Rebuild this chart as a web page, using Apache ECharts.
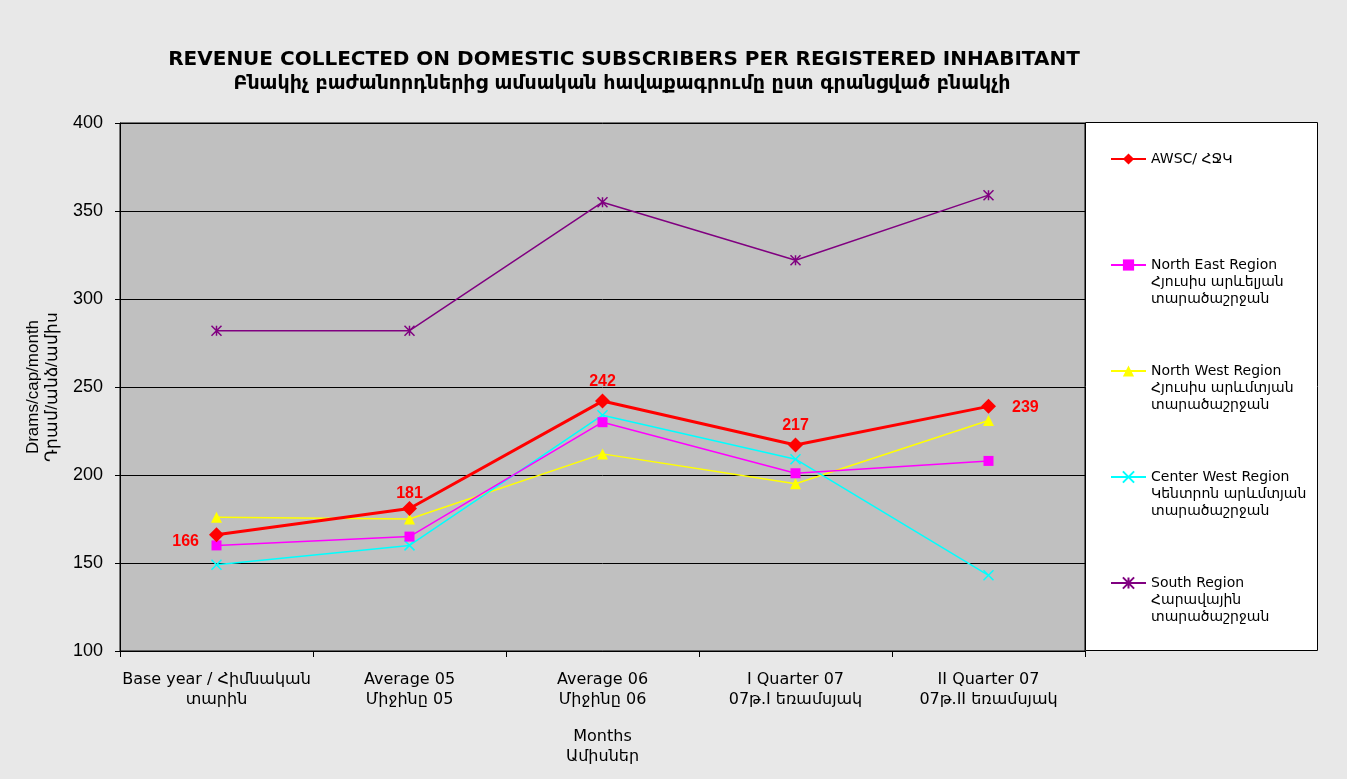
<!DOCTYPE html>
<html>
<head>
<meta charset="utf-8">
<script src="https://cdn.jsdelivr.net/npm/echarts@6/dist/echarts.min.js"></script>
<style>
html,body{margin:0;padding:0;background:#e8e8e8;}
#chart{width:1347px;height:779px;}
</style>
</head>
<body>
<div id="chart"></div>
<script>
const categories = [
  'Base year / Հիմնական\nտարին',
  'Average 05\nՄիջինը 05',
  'Average 06\nՄիջինը 06',
  'I Quarter 07\n07թ.I եռամսյակ',
  'II Quarter 07\n07թ.II եռամսյակ'
];
const seriesNames = [
  'AWSC/ ՀՋԿ',
  'North East Region\nՀյուսիս արևելյան\nտարածաշրջան',
  'North West Region\nՀյուսիս արևմտյան\nտարածաշրջան',
  'Center West Region\nԿենտրոն արևմտյան\nտարածաշրջան',
  'South Region\nՀարավային\nտարածաշրջան'
];
const awsc = [166, 181, 242, 217, 239];
const northEast = [160, 165, 230, 201, 208];
const northWest = [176, 175, 212, 195, 231];
const centerWest = [149, 160, 234, 209, 143];
const south = [282, 282, 355, 322, 359];
const awscLabelPos = ['left', 'top', 'top', 'top', 'right'];
const yTicks = [100, 150, 200, 250, 300, 350, 400];

const chart = echarts.init(document.getElementById('chart'));
const crossPath = 'path://M0,0L10,10M10,0L0,10';
const starPath = 'path://M0,0L10,10M10,0L0,10M5,0L5,10';
const legendTops = [150.5, 222.5, 328.5, 434.5, 540.5];
const font = 'DejaVu Sans, sans-serif';
const labelFont = 'Liberation Sans, Arial, sans-serif';
const labelDist = [10, -1, 4, 4, 16];
const labelOffset = [[0, 7], [0, 0], [0, 0], [0, 0], [0, 1]];

const legends = seriesNames.map((n, i) => ({
  data: [n],
  left: 1110,
  top: legendTops[i],
  itemWidth: 35,
  itemHeight: 14,
  padding: 0,
  z: 10,
  formatter: name => (i === 0 ? name : '\n\n' + name),
  textStyle: {fontFamily: font, fontSize: 14, color: '#000', lineHeight: 17}
}));

chart.setOption({
  backgroundColor: '#e8e8e8',
  animation: false,
  title: [{
    text: 'REVENUE COLLECTED ON DOMESTIC SUBSCRIBERS PER REGISTERED INHABITANT',
    left: 619, top: 45, textAlign: 'center',
    textStyle: {fontFamily: font, fontSize: 20, fontWeight: 'bold', color: '#000'}
  }, {
    text: 'Բնակիչ բաժանորդներից ամսական հավաքագրումը ըստ գրանցված բնակչի',
    left: 617, top: 70, textAlign: 'center',
    textStyle: {fontFamily: font, fontSize: 19, fontWeight: 'bold', color: '#000'}
  }],
  graphic: [{
    type: 'rect', z: 0,
    shape: {x: 1085.5, y: 122.5, width: 232, height: 528},
    style: {fill: '#fff', stroke: '#000', lineWidth: 1}
  }],
  legend: legends,
  grid: {left: 120, top: 123, right: 262, bottom: 128, show: true,
    backgroundColor: '#c0c0c0', borderColor: '#000', borderWidth: 1},
  xAxis: {
    type: 'category', data: categories, boundaryGap: true,
    name: 'Months\nԱմիսներ', nameLocation: 'middle', nameGap: 76,
    nameTextStyle: {fontFamily: font, fontSize: 16, color: '#000', lineHeight: 20},
    axisLine: {lineStyle: {color: '#000', width: 1}},
    axisTick: {show: true, interval: 0, length: 6, lineStyle: {color: '#000'}},
    axisLabel: {interval: 0, margin: 19, fontFamily: font, fontSize: 16, color: '#000', lineHeight: 20}
  },
  yAxis: {
    type: 'value', min: 100, max: 400, interval: 50,
    name: 'Drams/cap/month\nԴրամ/անձ/ամիս', nameLocation: 'middle', nameGap: 54,
    nameTextStyle: {fontFamily: labelFont, fontSize: 17, color: '#000', lineHeight: 19},
    axisLine: {show: true, lineStyle: {color: '#000', width: 1}},
    axisTick: {show: true, length: 5, lineStyle: {color: '#000'}},
    axisLabel: {margin: 17, fontFamily: labelFont, fontSize: 18, color: '#000'},
    splitLine: {show: true, lineStyle: {color: '#000', width: 1}}
  },
  series: [{
    name: seriesNames[0], type: 'line', z: 5,
    data: awsc.map((v, i) => ({value: v, label: {position: awscLabelPos[i], distance: labelDist[i], offset: labelOffset[i]}})),
    symbol: 'diamond', symbolSize: 15,
    itemStyle: {color: '#ff0000'}, lineStyle: {color: '#ff0000', width: 3},
    label: {show: true, fontFamily: labelFont, fontSize: 16, fontWeight: 'bold', color: '#ff0000'}
  }, {
    name: seriesNames[1], type: 'line', z: 4,
    data: northEast, symbol: 'rect', symbolSize: 10,
    itemStyle: {color: '#ff00ff'}, lineStyle: {color: '#ff00ff', width: 1.5}
  }, {
    name: seriesNames[2], type: 'line', z: 3,
    data: northWest, symbol: 'triangle', symbolSize: 11,
    itemStyle: {color: '#ffff00'}, lineStyle: {color: '#ffff00', width: 1.5}
  }, {
    name: seriesNames[3], type: 'line', z: 3,
    data: centerWest, symbol: crossPath, symbolSize: 10,
    itemStyle: {color: '#00ffff', borderColor: '#00ffff', borderWidth: 1.5},
    lineStyle: {color: '#00ffff', width: 1.5}
  }, {
    name: seriesNames[4], type: 'line', z: 3,
    data: south, symbol: starPath, symbolSize: 10,
    itemStyle: {color: '#800080', borderColor: '#800080', borderWidth: 1.5},
    lineStyle: {color: '#800080', width: 1.5}
  }]
});
</script>
</body>
</html>
